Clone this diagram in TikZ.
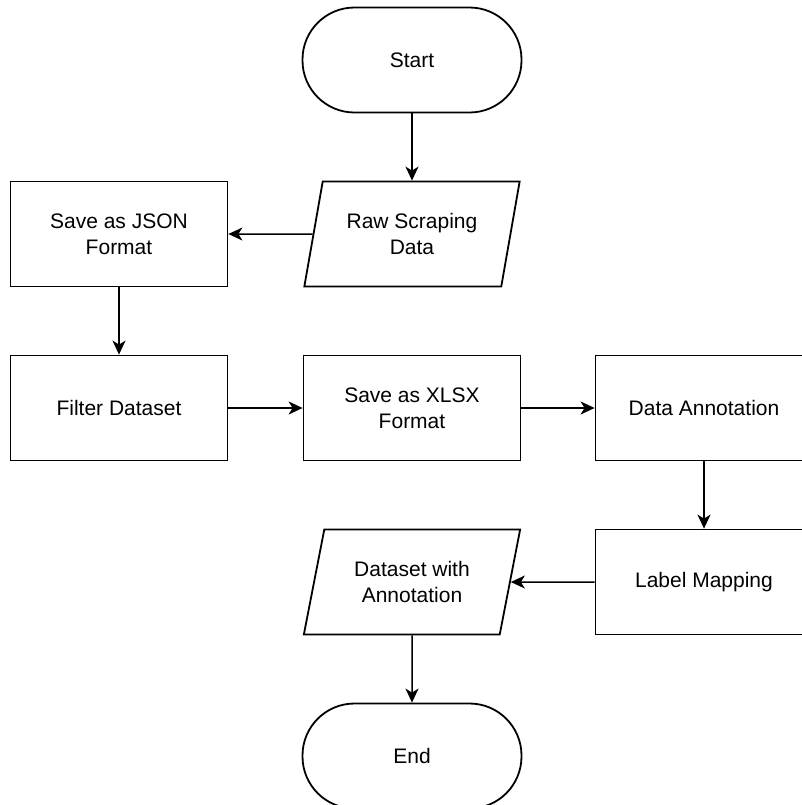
\documentclass[tikz,border=0pt]{standalone}
\usepackage{fontspec}
\setmainfont{Liberation Sans}
\usepackage{tikz}
\usetikzlibrary{shapes, arrows.meta, positioning}
\tikzstyle{every node}=[font=\fontsize{10.5}{13}\selectfont, align=center]
\tikzstyle{proc}=[draw, line width=0.9pt, minimum width=108.5pt, minimum height=52.5pt, inner sep=0pt]
\tikzstyle{term}=[proc, rounded corners=26pt, minimum width=109.5pt]
\tikzstyle{io}=[draw, line width=0.9pt, trapezium, trapezium left angle=72, trapezium right angle=108, trapezium stretches=true, minimum width=108.5pt, minimum height=52.5pt, inner sep=0pt]
\tikzstyle{arr}=[-{Stealth[length=7pt, width=6.5pt, inset=2pt]}, line width=0.75pt]

\begin{document}
\begin{tikzpicture}[node distance=87pt]
  \path[use as bounding box, clip] (0,0) rectangle (401pt,-402.5pt);
  \node[term] (S) at (206pt,-30pt) {Start};
  \node[io, below of=S] (R) {Raw Scraping\\Data};
  \node[proc, left of=R, node distance=146.5pt] (J) {Save as JSON\\Format};
  \node[proc, below of=J] (F) {Filter Dataset};
  \node[proc, right of=F, node distance=146.5pt] (X) {Save as XLSX\\Format};
  \node[proc, right of=X, node distance=146pt] (DA) {Data Annotation};
  \node[proc, below of=DA] (LM) {Label Mapping};
  \node[io, left of=LM, node distance=146pt] (DW) {Dataset with\\Annotation};
  \node[term, below of=DW] (E) {End};
  \draw[arr] (S) -- (R);
  \draw[arr] (R.west) -- (J.east);
  \draw[arr] (J) -- (F);
  \draw[arr] (F) -- (X);
  \draw[arr] (X) -- (DA);
  \draw[arr] (DA) -- (LM);
  \draw[arr] (LM.west) -- (DW.east);
  \draw[arr] (DW) -- (E);
\end{tikzpicture}
\end{document}
